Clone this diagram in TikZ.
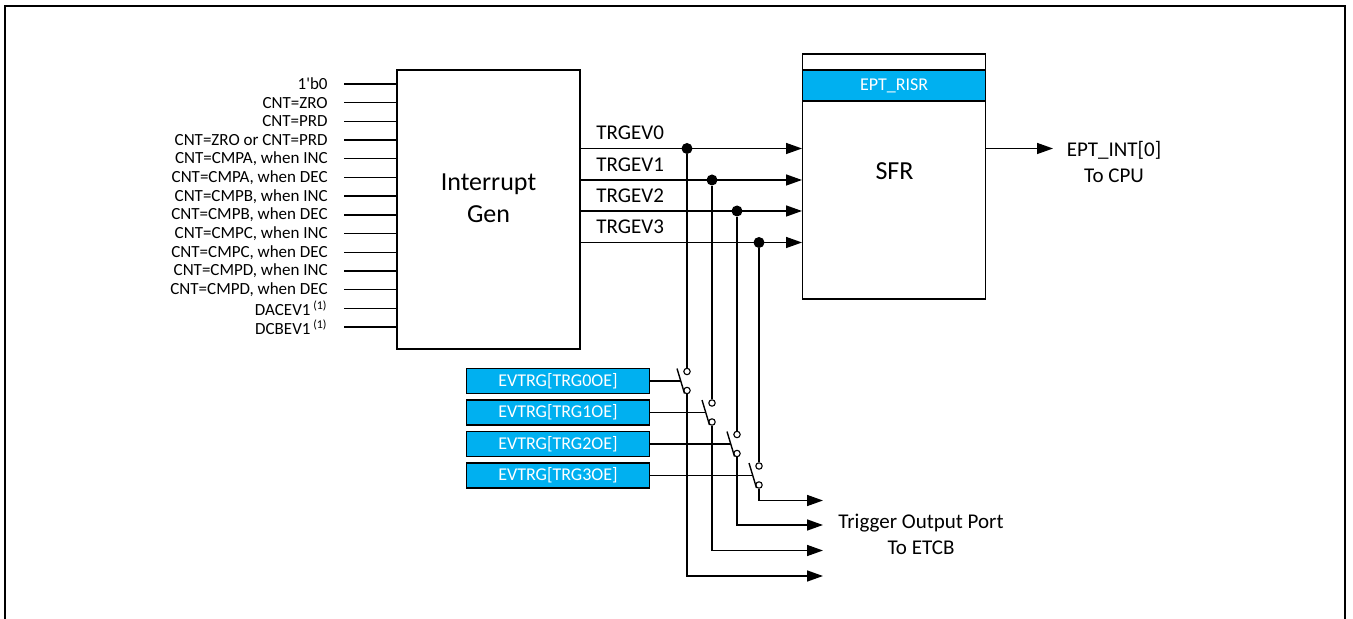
\documentclass[tikz,border=0pt]{standalone}
\usepackage{fontspec}
\setmainfont{Carlito}
\usetikzlibrary{arrows.meta, calc}
\definecolor{regblue}{HTML}{00B0F0}
\tikzset{
  wire/.style={line width=0.7pt},
  ctrl/.style={line width=0.55pt},
  sig/.style={wire, -{Triangle[length=8pt, width=5.5pt]}},
  blk/.style={draw, line width=0.7pt, fill=white, inner sep=0pt},
  regbox/.style={draw, line width=0.7pt, fill=regblue, text=white, inner sep=0pt,
    font=\fontsize{9}{10}\selectfont},
  inlbl/.style={anchor=east, inner xsep=8pt, inner ysep=0pt, font=\fontsize{8.5}{9}\selectfont},
  siglbl/.style={anchor=base west, inner sep=0pt, font=\fontsize{10.5}{12}\selectfont},
  bigtxt/.style={align=center, font=\fontsize{13}{16}\selectfont},
  midtxt/.style={align=center, font=\fontsize{10.5}{13}\selectfont},
  tap/.style={circle, fill, inner sep=0pt, minimum size=5.5pt},
  contact/.style={circle, draw, fill=white, line width=0.55pt, inner sep=0pt, minimum size=3.2pt},
}
\begin{document}
\begin{tikzpicture}[x=0.5pt, y=-0.5pt]
\useasboundingbox (0,0) rectangle (1353,619);
% outer frame, open at the bottom
\draw[line width=1pt] (5,619) -- (5,6) -- (1345,6) -- (1345,619);

% interrupt generator and its inputs
\node[blk, minimum width=91.5pt, minimum height=139.5pt] (gen) at (488.5,209.5) {};
\node[bigtxt] (gentxt) at (488.5,198) {Interrupt\\Gen};
\foreach \lbl [count=\i from 0] in {1\textquotesingle b0, CNT=ZRO, CNT=PRD, CNT=ZRO or CNT=PRD,
    {CNT=CMPA, when INC}, {CNT=CMPA, when DEC}, {CNT=CMPB, when INC}, {CNT=CMPB, when DEC},
    {CNT=CMPC, when INC}, {CNT=CMPC, when DEC}, {CNT=CMPD, when INC}, {CNT=CMPD, when DEC},
    DACEV1\,\textsuperscript{(1)}, DCBEV1\,\textsuperscript{(1)}} {
  \node[inlbl] (in\i) at (344,84+18.7*\i) {\lbl};
  \draw[wire] (in\i.east) -- (in\i.east -| gen.west);
}

% SFR block
\node[blk, minimum width=91.5pt, minimum height=122.5pt] (sfr) at (894.2,176.5) {};
\node[regbox, minimum width=91.5pt, minimum height=15.5pt] (risr) at (894.2,85.5) {EPT\_RISR};
\node[bigtxt] (sfrtxt) at (894.5,171) {SFR};
\coordinate (cpu) at (1053,148.5);
\draw[sig] (sfr.east |- cpu) -- (cpu);
\node[midtxt] (cputxt) at (1114,162) {EPT\_INT[0]\\To CPU};

% trigger events, enables and output switches
\foreach \k/\yy/\xx/\yc/\yo in {0/148.5/687/381/576, 1/180/712/412.5/550.5,
    2/211/737/444/525, 3/242.5/759/475.5/500.5} {
  \coordinate (src\k) at (580,\yy);
  \draw[sig] (src\k) -- (src\k -| sfr.west);
  \node[siglbl] (tl\k) at (596,\yy-8.5) {TRGEV\k};
  \node[regbox, minimum width=91.3pt, minimum height=12.5pt] (ev\k) at (558,\yc) {EVTRG[TRG\k OE]};
  \node[contact] (ct\k) at (\xx,\yc-9.5) {};
  \node[contact] (cb\k) at (\xx,\yc+9.5) {};
  \coordinate (bb\k) at (\xx-2.5,\yc+12.5);
  \coordinate (bt\k) at (\xx-10,\yc-12.5);
  \coordinate (out\k) at (823,\yo);
  \node[tap] (tp\k) at (\xx,\yy) {};
  \draw[wire] (tp\k) -- (ct\k.north);
  \draw[wire] (bb\k) -- (bt\k);
  \draw[ctrl] (ev\k.east) -- ($(bb\k)!0.5!(bt\k)$);
  \draw[sig] (cb\k.south) |- (out\k);
}
\node[midtxt] (etcb) at (921,534) {Trigger Output Port\\To ETCB};
\end{tikzpicture}
\end{document}
